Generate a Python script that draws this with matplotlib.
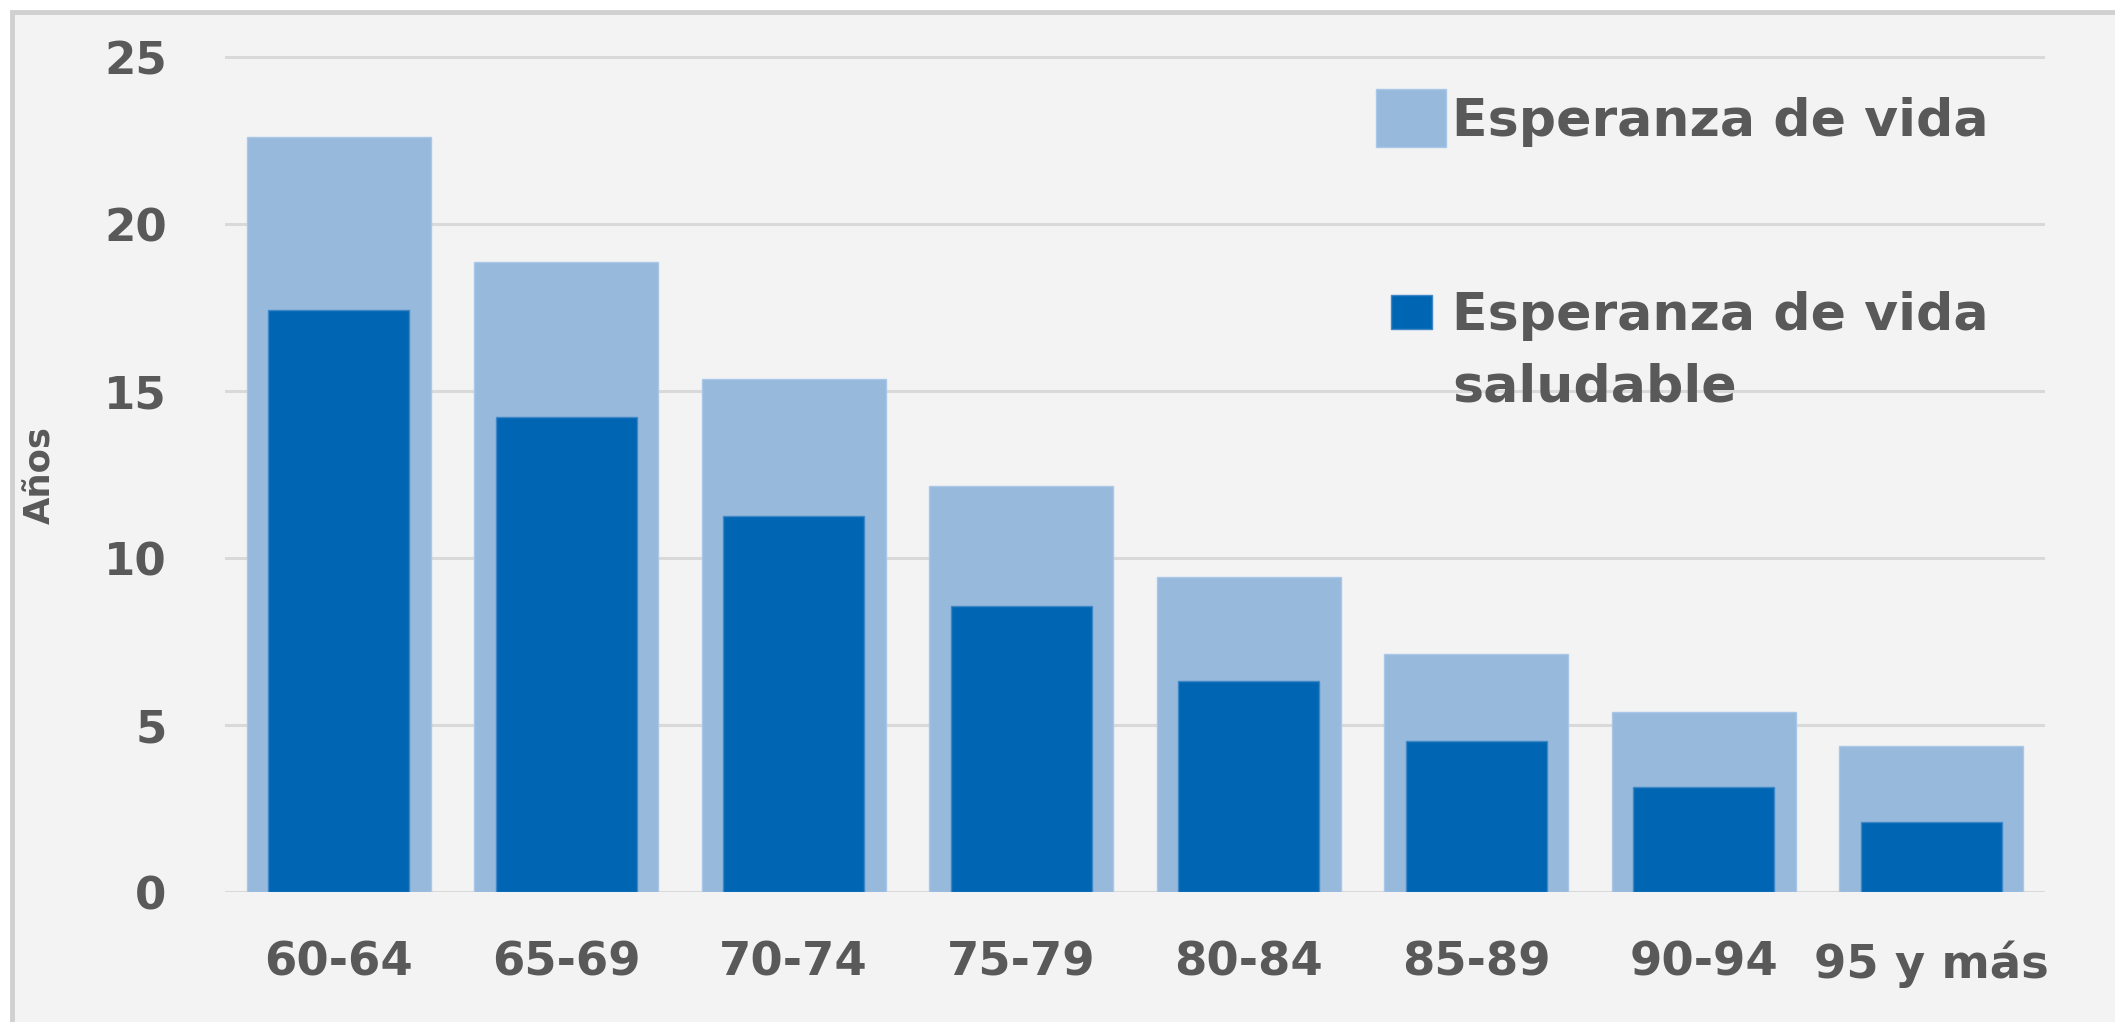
import matplotlib
matplotlib.use("Agg")
import matplotlib.pyplot as plt
from matplotlib.patches import Rectangle

categories = ["60-64", "65-69", "70-74", "75-79", "80-84", "85-89", "90-94", "95 y más"]
esperanza_vida = [22.6, 18.86, 15.36, 12.16, 9.44, 7.14, 5.39, 4.38]
esperanza_saludable = [17.43, 14.22, 11.26, 8.56, 6.33, 4.51, 3.14, 2.09]
yticks = [0, 5, 10, 15, 20, 25]
legend_labels = ["Esperanza de vida", "Esperanza de vida", "saludable"]

LIGHT = "#97B9DC"
DARK = "#0066B3"
BG = "#F3F3F3"
TXT = "#595959"
GRID = "#D9D9D9"

plt.rcParams["font.family"] = ["DejaVu Sans"]

W, H = 2115, 1022
fig = plt.figure(figsize=(W / 100, H / 100), dpi=100, facecolor="white")

# outer frame (chart area background, cropped on right/bottom)
fig.add_artist(Rectangle((12 / W, -0.1), 1.2, 1 - 12 / H + 0.1, transform=fig.transFigure,
                         facecolor=BG, edgecolor="#D0D0D0", linewidth=3.5, zorder=0))

ax = fig.add_axes([225 / W, 1 - 892 / H, 1820 / W, (892 - 47) / H])
ax.set_facecolor("none")
x = list(range(len(categories)))
ax.bar(x, esperanza_vida, width=0.81, color=LIGHT, edgecolor="#A9C8E8", linewidth=1, zorder=2)
ax.bar(x, esperanza_saludable, width=0.62, color=DARK, edgecolor="#3F87C6", linewidth=1, zorder=3)

ax.set_xlim(-0.5, len(categories) - 0.5)
ax.set_ylim(0, 25.3)
ax.set_yticks(yticks)
ax.set_xticks(x)
ax.set_xticklabels(categories)
ax.yaxis.grid(True, color=GRID, linewidth=2.2, zorder=1)
ax.set_axisbelow(True)
for s in ax.spines.values():
    s.set_visible(False)
ax.tick_params(axis="both", length=0, colors=TXT)
ax.tick_params(axis="y", pad=42, labelsize=32.5)
ax.tick_params(axis="x", pad=35, labelsize=33.5)
for lab in ax.get_xticklabels() + ax.get_yticklabels():
    lab.set_fontweight("bold")
    lab.set_color(TXT)

ax.set_ylabel("Años", fontsize=25.5, fontweight="bold", color=TXT)
ax.yaxis.set_label_coords((57 - 225) / 1820, (892 - 475) / (892 - 47))

# legend (manual, Excel-style)
LFS = 37.5
fig.add_artist(Rectangle((1376 / W, 1 - 147 / H), 70 / W, 58 / H, transform=fig.transFigure,
                         facecolor=LIGHT, edgecolor="#A9C8E8", linewidth=1))
fig.text(1452 / W, 1 - 136 / H, legend_labels[0], fontsize=LFS, fontweight="bold",
         color=TXT, va="baseline", ha="left")
fig.add_artist(Rectangle((1391 / W, 1 - 329 / H), 41 / W, 34 / H, transform=fig.transFigure,
                         facecolor=DARK, edgecolor="#3F87C6", linewidth=1))
fig.text(1452 / W, 1 - 330 / H, legend_labels[1], fontsize=LFS, fontweight="bold",
         color=TXT, va="baseline", ha="left")
fig.text(1452 / W, 1 - 402 / H, legend_labels[2], fontsize=LFS, fontweight="bold",
         color=TXT, va="baseline", ha="left")

fig.savefig("out.png", dpi=100, facecolor="white")
